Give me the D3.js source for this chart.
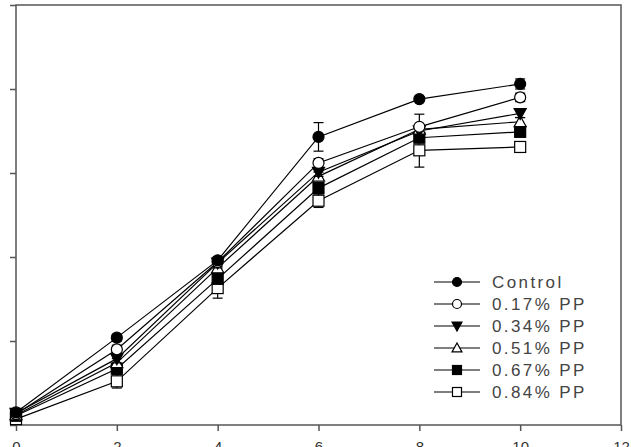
<!DOCTYPE html>
<html>
<head>
<meta charset="utf-8">
<script src="https://cdn.jsdelivr.net/npm/d3@7"></script>
<style>
  body { margin: 0; background: #fff; }
  svg { display: block; font-family: "Liberation Sans", Arial, sans-serif; }
</style>
</head>
<body>
<svg width="631" height="447"></svg>
<script>
// days
var days = [0, 2, 4, 6, 8, 10];
var seriesNames = ["Control", "0.17% PP", "0.34% PP", "0.51% PP", "0.67% PP", "0.84% PP"];
var seriesMarks = ["circleFill", "circleOpen", "triDownFill", "triUpOpen", "squareFill", "squareOpen"];

var control = [0.15, 1.04, 1.96, 3.43, 3.88, 4.06];
var pp017 = [0.13, 0.90, 1.94, 3.12, 3.55, 3.90];
var pp034 = [0.14, 0.79, 1.93, 3.01, 3.50, 3.71];
var pp051 = [0.12, 0.74, 1.87, 2.96, 3.52, 3.61];
var pp067 = [0.11, 0.67, 1.74, 2.82, 3.42, 3.49];
var pp084 = [0.07, 0.52, 1.63, 2.67, 3.27, 3.31];

var errControl = [0.03, 0.04, 0.04, 0.17, 0.03, 0.06];
var err017 = [0.03, 0.05, 0.05, 0.05, 0.15, 0.05];
var err034 = [0.03, 0.05, 0.06, 0.05, 0.05, 0.05];
var err051 = [0.03, 0.05, 0.05, 0.05, 0.05, 0.05];
var err067 = [0.03, 0.05, 0.05, 0.05, 0.05, 0.05];
var err084 = [0.03, 0.08, 0.12, 0.08, 0.20, 0.05];

var xTicks = [0, 2, 4, 6, 8, 10, 12];
var yTicks = [0, 1, 2, 3, 4, 5];

var allValues = [control, pp017, pp034, pp051, pp067, pp084];
var allErrors = [errControl, err017, err034, err051, err067, err084];

var svg = d3.select("svg");
var plotL = 16, plotR = 621, plotT = 5, plotB = 425;

var x = d3.scaleLinear().domain([0, 12]).range([plotL, plotR]);
var y = d3.scaleLinear().domain([0, 5]).range([plotB, plotT]);

// frame
svg.append("rect")
  .attr("x", plotL).attr("y", plotT)
  .attr("width", plotR - plotL).attr("height", plotB - plotT)
  .attr("fill", "none").attr("stroke", "#555").attr("stroke-width", 1.5);

var xAxis = svg.append("g")
  .attr("transform", "translate(0," + plotB + ")")
  .call(d3.axisBottom(x).tickValues(xTicks).tickSize(6).tickPadding(10).tickFormat(d3.format("d")));
var yAxis = svg.append("g")
  .attr("transform", "translate(" + plotL + ",0)")
  .call(d3.axisLeft(y).tickValues(yTicks).tickSize(6).tickPadding(11).tickFormat(d3.format("d")));

[xAxis, yAxis].forEach(function(g) {
  g.select(".domain").remove();
  g.selectAll("line").attr("stroke", "#555").attr("stroke-width", 1.5);
  g.selectAll("text").attr("font-size", 15).attr("fill", "#333")
    .attr("font-family", "Liberation Sans, Arial, sans-serif");
});

function drawMark(g, kind, cx, cy, s) {
  var fill = kind.indexOf("Fill") >= 0 ? "#000" : "#fff";
  var el;
  if (kind.indexOf("circle") == 0) {
    el = g.append("circle").attr("cx", cx).attr("cy", cy).attr("r", s);
  } else if (kind.indexOf("square") == 0) {
    el = g.append("rect").attr("x", cx - s).attr("y", cy - s).attr("width", 2 * s).attr("height", 2 * s);
  } else if (kind == "triDownFill") {
    var h = s * 1.1;
    el = g.append("path").attr("d", "M" + (cx - h) + "," + (cy - h * 0.8) + "L" + (cx + h) + "," + (cy - h * 0.8) + "L" + cx + "," + (cy + h) + "Z");
  } else {
    var h2 = s * 1.1;
    el = g.append("path").attr("d", "M" + (cx - h2) + "," + (cy + h2 * 0.8) + "L" + (cx + h2) + "," + (cy + h2 * 0.8) + "L" + cx + "," + (cy - h2) + "Z");
  }
  el.attr("fill", fill).attr("stroke", "#000").attr("stroke-width", 1.2);
}

var line = d3.line()
  .x(function(d, i) { return x(days[i]); })
  .y(function(d) { return y(d); });

// lines first
allValues.forEach(function(vals) {
  svg.append("path").datum(vals)
    .attr("d", line)
    .attr("fill", "none").attr("stroke", "#000").attr("stroke-width", 1.2);
});

// error bars and markers, last series drawn first so control stays on top
for (var k = allValues.length - 1; k >= 0; k--) {
  var g = svg.append("g");
  var vals = allValues[k], errs = allErrors[k];
  for (var i = 0; i < days.length; i++) {
    var cx = x(days[i]);
    var y1 = y(vals[i] + errs[i]), y2 = y(vals[i] - errs[i]);
    g.append("line").attr("x1", cx).attr("x2", cx).attr("y1", y1).attr("y2", y2)
      .attr("stroke", "#000").attr("stroke-width", 1.2);
    [y1, y2].forEach(function(yy) {
      g.append("line").attr("x1", cx - 5).attr("x2", cx + 5).attr("y1", yy).attr("y2", yy)
        .attr("stroke", "#000").attr("stroke-width", 1.2);
    });
    drawMark(g, seriesMarks[k], cx, y(vals[i]), 5.5);
  }
}

// legend
var legend = svg.append("g");
seriesNames.forEach(function(name, i) {
  var ly = 282 + i * 22;
  legend.append("line").attr("x1", 434).attr("x2", 480).attr("y1", ly).attr("y2", ly)
    .attr("stroke", "#000").attr("stroke-width", 1.2);
  drawMark(legend, seriesMarks[i], 457, ly, 4.5);
  legend.append("text").attr("x", 492).attr("y", ly).attr("dy", "0.36em")
    .attr("font-size", 17).attr("letter-spacing", 2.4).attr("fill", "#444")
    .text(name);
});
</script>
</body>
</html>
